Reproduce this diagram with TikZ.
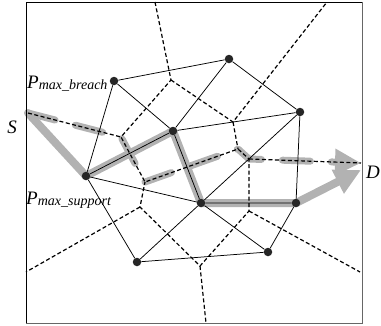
\documentclass[tikz,border=0pt]{standalone}
\usepackage{fontspec}
\setmainfont{Liberation Serif}
\usetikzlibrary{arrows.meta,backgrounds}

\begin{document}
\begin{tikzpicture}[x=1pt,y=-1pt]
  \tikzstyle{every node}+=[inner sep=0pt]
  \tikzstyle{site}=[circle,fill=black!85,minimum size=8.5pt]
  \tikzstyle{edge}=[black,line width=0.75pt]
  \tikzstyle{cell}=[black,line width=1.2pt,dash pattern=on 4pt off 2.5pt]
  \tikzstyle{route}=[black!30,line width=8pt,line join=round,line cap=round]
  \tikzstyle{routetip}=[-{Triangle[length=26pt,width=25pt]}]
  \useasboundingbox (0,0) rectangle (381,325);
  \draw [black,line width=0.8pt] (362,2) -- (26,2) -- (26,323);
  \draw [black!60,line width=1pt] (26,323) -- (362,323) -- (362,2);
  \node [site] (A) at (114,81) {};
  \node [site] (G) at (229,59) {};
  \node [site] (B) at (173,131) {};
  \node [site] (C) at (86,176) {};
  \node [site] (E) at (201,203) {};
  \node [site] (F) at (296,203) {};
  \node [site] (H) at (300,112) {};
  \node [site] (I) at (268,252) {};
  \node [site] (J) at (137,262) {};
  \coordinate (agb) at (171,80);
  \coordinate (abc) at (121,137);
  \coordinate (gbh) at (233,122);
  \coordinate (beh) at (238,149);
  \coordinate (ehf) at (249,159);
  \coordinate (efi) at (249,211);
  \coordinate (eji) at (200,266);
  \coordinate (cej) at (140,207);
  \coordinate (bce) at (145,182);
  \coordinate (top1) at (155,2);
  \coordinate (top2) at (327,2);
  \coordinate (right1) at (361,163);
  \coordinate (right2) at (360,272);
  \coordinate (bot1) at (206,323);
  \coordinate (left1) at (26,272);
  \coordinate (src) at (28,113);
  \coordinate (dst) at (361,170);
  \begin{pgfonlayer}{background}
    \draw [route,line width=7pt,dash pattern=on 28pt off 21pt,routetip] (src) -- (abc) -- (bce) -- (beh) -- (ehf) -- (right1);
    \draw [route,routetip] (src) -- (C.center) -- (B.center) -- (E.center) -- (F.center) -- (dst);
    \draw [edge] (A) -- (G) -- (H) -- (F) -- (I) -- (J) -- (C) -- (A) -- (B) -- (G);
    \draw [edge] (B) -- (H) -- (E) -- (I);
    \draw [edge] (C) -- (B) -- (E) -- (F);
    \draw [edge] (C) -- (E) -- (J);
    \draw [cell] (top1) -- (agb) -- (abc) -- (bce) -- (beh) -- (ehf) -- (efi) -- (eji) -- (cej) -- (bce);
    \draw [cell] (src) -- (abc);
    \draw [cell] (agb) -- (gbh) -- (top2);
    \draw [cell] (gbh) -- (beh);
    \draw [cell] (ehf) -- (right1);
    \draw [cell] (efi) -- (right2);
    \draw [cell] (eji) -- (bot1);
    \draw [cell] (cej) -- (left1);
  \end{pgfonlayer}
  \node (S) at (12,127) {\fontsize{19}{19}\selectfont\itshape S};
  \node (D) at (373,172) {\fontsize{19}{19}\selectfont\itshape D};
  \node [anchor=base west] (Pb) at (27,88) {\fontsize{19}{19}\selectfont\itshape P\raisebox{-1.5pt}{\fontsize{14}{14}\selectfont max\_breach}};
  \node [anchor=base west] (Ps) at (26,204) {\fontsize{19}{19}\selectfont\itshape P\raisebox{-1.5pt}{\fontsize{14}{14}\selectfont max\_support}};
\end{tikzpicture}
\end{document}
